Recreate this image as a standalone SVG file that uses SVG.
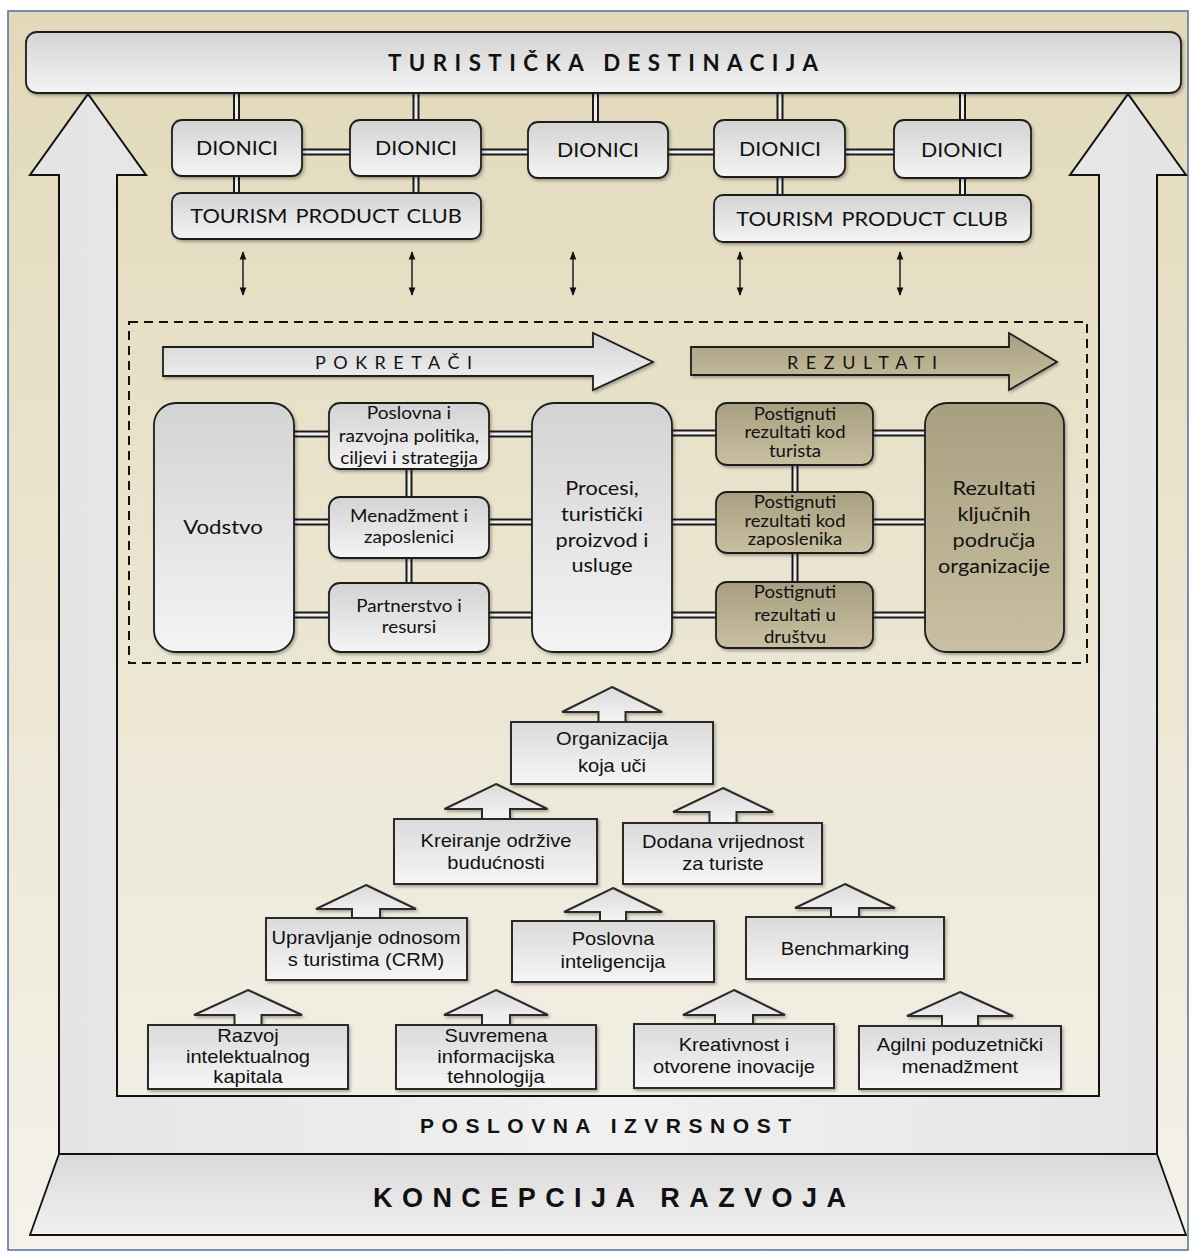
<svg xmlns="http://www.w3.org/2000/svg" width="1192" height="1254" viewBox="0 0 1192 1254">
<defs>
<linearGradient id="gBg" x1="0" y1="0" x2="0" y2="1">
<stop offset="0" stop-color="#e2d9b9"/><stop offset="0.5" stop-color="#ebe6d2"/><stop offset="1" stop-color="#f4f2ea"/>
</linearGradient>
<linearGradient id="gGrey" x1="0" y1="0" x2="0" y2="1">
<stop offset="0" stop-color="#d3d3d3"/><stop offset="1" stop-color="#f4f4f4"/>
</linearGradient>
<linearGradient id="gPy" x1="0" y1="0" x2="0" y2="1">
<stop offset="0" stop-color="#dadada"/><stop offset="1" stop-color="#f6f6f6"/>
</linearGradient>
<linearGradient id="gKhaki" x1="0" y1="0" x2="0" y2="1">
<stop offset="0" stop-color="#a89e80"/><stop offset="1" stop-color="#c9c0a1"/>
</linearGradient>
<linearGradient id="gU" x1="0" y1="0" x2="1" y2="0">
<stop offset="0" stop-color="#e4e4e4"/><stop offset="0.5" stop-color="#f1f1f1"/><stop offset="1" stop-color="#e4e4e4"/>
</linearGradient>
<linearGradient id="gBase" x1="0" y1="0" x2="0" y2="1">
<stop offset="0" stop-color="#d9d9d9"/><stop offset="1" stop-color="#f1f1f1"/>
</linearGradient>
<filter id="sh" x="-10%" y="-10%" width="125%" height="135%">
<feDropShadow dx="1.5" dy="2" stdDeviation="1.5" flood-color="#000" flood-opacity="0.3"/>
</filter>
<marker id="ah" viewBox="0 0 10 10" refX="9" refY="5" markerWidth="6" markerHeight="6" orient="auto-start-reverse">
<path d="M0,1 L10,5 L0,9 Z" fill="#111"/>
</marker>
<style>
.g{fill:url(#gGrey);stroke:#1e1e1e;stroke-width:1.8;filter:url(#sh)}
.k{fill:url(#gKhaki);stroke:#1e1e1e;stroke-width:1.8;filter:url(#sh)}
.py{fill:url(#gPy);stroke:#2a2a2a;stroke-width:2;filter:url(#sh)}
.c1{fill:none;stroke:#1a1a1a;stroke-width:7}
.c2{fill:none;stroke:#eeeeee;stroke-width:3}
.da{fill:none;stroke:#111;stroke-width:1.4;marker-start:url(#ah);marker-end:url(#ah)}
.lt{font-family:Lato,'Liberation Sans',sans-serif;fill:#111;text-anchor:middle}
.ar{font-family:'Liberation Sans',Arial,sans-serif;fill:#111;text-anchor:middle;font-size:17.5px}
.ttl{font-family:Lato,'Liberation Sans',sans-serif;fill:#111;font-weight:bold}
.ttn{font-family:'Liberation Sans',Arial,sans-serif;fill:#111;font-weight:bold}
</style>
</defs>

<rect x="8" y="11" width="1180" height="1239" fill="url(#gBg)" stroke="#4f6f9a" stroke-width="1.5"/>

<g id="frame-arrow">
<path d="M88,94 L146,175 L117,175 L117,1096 L1099,1096 L1099,175 L1070,175 L1128,94 L1186,175 L1157,175 L1157,1154 L59,1154 L59,175 L30,175 Z" fill="url(#gU)" stroke="#111" stroke-width="2"/>
<text class="ttn" x="420" y="1133" font-size="21" textLength="371" lengthAdjust="spacing">POSLOVNA IZVRSNOST</text>
</g>

<g id="koncepcija">
<path d="M59,1154 L1157,1154 L1186,1235 L30,1235 Z" fill="url(#gBase)" stroke="#111" stroke-width="1.8"/>
<text class="ttn" x="373" y="1207" font-size="27" textLength="473" lengthAdjust="spacing">KONCEPCIJA RAZVOJA</text>
</g>

<g id="connectors">
<path class="c1" d="M236.5,90 V124 M416,90 V124 M595.5,90 V126 M780,90 V124 M962.5,90 V124 M236.5,172 V197 M416,172 V197 M780,173 V199 M962.5,175 V199 M298,152 H354 M477,152 H532 M664,152 H718 M841,152 H898 M290,434 H333 M485,434 H536 M290,522 H333 M485,522 H536 M290,615 H333 M485,615 H536 M409,465 V501 M409,554 V587 M668,433 H720 M869,433 H929 M668,522 H720 M869,522 H929 M668,615 H720 M869,615 H929 M795,461 V496 M795,549 V586"/>
<path class="c2" d="M236.5,90 V124 M416,90 V124 M595.5,90 V126 M780,90 V124 M962.5,90 V124 M236.5,172 V197 M416,172 V197 M780,173 V199 M962.5,175 V199 M298,152 H354 M477,152 H532 M664,152 H718 M841,152 H898 M290,434 H333 M485,434 H536 M290,522 H333 M485,522 H536 M290,615 H333 M485,615 H536 M409,465 V501 M409,554 V587 M668,433 H720 M869,433 H929 M668,522 H720 M869,522 H929 M668,615 H720 M869,615 H929 M795,461 V496 M795,549 V586"/>
<line class="da" x1="243" y1="252" x2="243" y2="295"/>
<line class="da" x1="412" y1="252" x2="412" y2="295"/>
<line class="da" x1="573" y1="252" x2="573" y2="295"/>
<line class="da" x1="740" y1="252" x2="740" y2="295"/>
<line class="da" x1="900" y1="252" x2="900" y2="295"/>
</g>

<g id="turisticka-destinacija">
<rect class="g" x="26" y="32" width="1155" height="61" rx="11"/>
<text class="ttl" x="388" y="71" font-size="22.3" textLength="430" lengthAdjust="spacing">TURISTIČKA DESTINACIJA</text>
</g>

<g id="dionici-1"><rect class="g" x="172" y="120" width="130" height="56" rx="10"/><text class="lt" font-size="18.6" transform="translate(237 0) scale(1.15 1)" x="0" y="155">DIONICI</text></g>
<g id="dionici-2"><rect class="g" x="350" y="120" width="131" height="56" rx="10"/><text class="lt" font-size="18.6" transform="translate(416 0) scale(1.15 1)" x="0" y="155">DIONICI</text></g>
<g id="dionici-3"><rect class="g" x="528" y="122" width="140" height="56" rx="10"/><text class="lt" font-size="18.6" transform="translate(598 0) scale(1.15 1)" x="0" y="157">DIONICI</text></g>
<g id="dionici-4"><rect class="g" x="714" y="120" width="131" height="57" rx="10"/><text class="lt" font-size="18.6" transform="translate(780 0) scale(1.15 1)" x="0" y="156">DIONICI</text></g>
<g id="dionici-5"><rect class="g" x="894" y="120" width="137" height="58" rx="10"/><text class="lt" font-size="18.6" transform="translate(962 0) scale(1.15 1)" x="0" y="157">DIONICI</text></g>
<g id="tpc-1"><rect class="g" x="172" y="193" width="309" height="46" rx="9"/><text class="lt" font-size="18.6" transform="translate(326 0) scale(1.17 1)" x="0" y="223" word-spacing="2">TOURISM PRODUCT CLUB</text></g>
<g id="tpc-2"><rect class="g" x="714" y="195" width="317" height="47" rx="9"/><text class="lt" font-size="18.6" transform="translate(872 0) scale(1.17 1)" x="0" y="226" word-spacing="2">TOURISM PRODUCT CLUB</text></g>

<g id="model">
<rect x="129" y="322" width="958" height="341" fill="none" stroke="#111" stroke-width="2" stroke-dasharray="9 6"/>
</g>

<g id="pokretaci">
<polygon class="g" points="163,347 593,347 593,333 653,362 593,390 593,376 163,376"/>
<text class="lt" style="text-anchor:start" x="315" y="369" font-size="18" textLength="157" lengthAdjust="spacing">POKRETAČI</text>
</g>
<g id="rezultati-arrow">
<polygon class="k" points="691,347 1009,347 1009,333 1057,362 1009,390 1009,375 691,375"/>
<text class="lt" style="text-anchor:start" x="787" y="369" font-size="18" textLength="150" lengthAdjust="spacing">REZULTATI</text>
</g>

<g id="vodstvo"><rect class="g" x="154" y="403" width="140" height="249" rx="22"/><text class="lt" font-size="19.5" transform="translate(223 0) scale(1.14 1)" x="0" y="534">Vodstvo</text></g>
<g id="poslovna-politika"><rect class="g" x="329" y="403" width="160" height="66" rx="11"/><text class="lt" font-size="16.7" transform="translate(409 0) scale(1.14 1)"><tspan x="0" y="419">Poslovna i</tspan><tspan x="0" y="442">razvojna politika,</tspan><tspan x="0" y="464">ciljevi i strategija</tspan></text></g>
<g id="menadzment"><rect class="g" x="329" y="497" width="160" height="61" rx="11"/><text class="lt" font-size="16.5" transform="translate(409 0) scale(1.14 1)"><tspan x="0" y="522">Menadžment i</tspan><tspan x="0" y="543">zaposlenici</tspan></text></g>
<g id="partnerstvo"><rect class="g" x="329" y="583" width="160" height="69" rx="11"/><text class="lt" font-size="16.5" transform="translate(409 0) scale(1.14 1)"><tspan x="0" y="612">Partnerstvo i</tspan><tspan x="0" y="633">resursi</tspan></text></g>
<g id="procesi"><rect class="g" x="532" y="403" width="140" height="249" rx="22"/><text class="lt" font-size="19" transform="translate(602 0) scale(1.14 1)"><tspan x="0" y="495">Procesi,</tspan><tspan x="0" y="521">turistički</tspan><tspan x="0" y="547">proizvod i</tspan><tspan x="0" y="572">usluge</tspan></text></g>
<g id="rez-turista"><rect class="k" x="716" y="403" width="157" height="62" rx="11"/><text class="lt" font-size="16.3" transform="translate(795 0) scale(1.14 1)"><tspan x="0" y="420">Postignuti</tspan><tspan x="0" y="438">rezultati kod</tspan><tspan x="0" y="457">turista</tspan></text></g>
<g id="rez-zaposlenika"><rect class="k" x="716" y="492" width="157" height="61" rx="11"/><text class="lt" font-size="16.3" transform="translate(795 0) scale(1.14 1)"><tspan x="0" y="508">Postignuti</tspan><tspan x="0" y="527">rezultati kod</tspan><tspan x="0" y="545">zaposlenika</tspan></text></g>
<g id="rez-drustvo"><rect class="k" x="716" y="582" width="157" height="66" rx="11"/><text class="lt" font-size="16.3" transform="translate(795 0) scale(1.14 1)"><tspan x="0" y="598">Postignuti</tspan><tspan x="0" y="621">rezultati u</tspan><tspan x="0" y="643">društvu</tspan></text></g>
<g id="rez-kljucnih"><rect class="k" x="925" y="403" width="139" height="249" rx="22"/><text class="lt" font-size="19" transform="translate(994 0) scale(1.14 1)"><tspan x="0" y="495">Rezultati</tspan><tspan x="0" y="521">ključnih</tspan><tspan x="0" y="547">područja</tspan><tspan x="0" y="573">organizacije</tspan></text></g>

<g id="organizacija-koja-uci">
<polygon class="py" points="612,687 662,712 625.5,712 625.5,723 598.5,723 598.5,712 562,712"/>
<rect class="py" x="511" y="722" width="202" height="62"/>
<text class="ar" transform="translate(612 0) scale(1.15 1)"><tspan x="0" y="745">Organizacija</tspan><tspan x="0" y="772">koja uči</tspan></text>
</g>
<g id="kreiranje">
<polygon class="py" points="496,784 547.5,809 510,809 510,820 482,820 482,809 444.5,809"/>
<rect class="py" x="394" y="819" width="203" height="65"/>
<text class="ar" transform="translate(496 0) scale(1.15 1)"><tspan x="0" y="847">Kreiranje održive</tspan><tspan x="0" y="869">budućnosti</tspan></text>
</g>
<g id="dodana-vrijednost">
<polygon class="py" points="723,788 773,812 736.5,812 736.5,824 709.5,824 709.5,812 673,812"/>
<rect class="py" x="623" y="823" width="199" height="61"/>
<text class="ar" transform="translate(723 0) scale(1.15 1)"><tspan x="0" y="848">Dodana vrijednost</tspan><tspan x="0" y="870">za turiste</tspan></text>
</g>
<g id="crm">
<polygon class="py" points="366,885 416,909 380,909 380,919 352,919 352,909 316,909"/>
<rect class="py" x="266" y="918" width="201" height="62"/>
<text class="ar" transform="translate(366 0) scale(1.15 1)"><tspan x="0" y="944">Upravljanje odnosom</tspan><tspan x="0" y="966">s turistima (CRM)</tspan></text>
</g>
<g id="poslovna-inteligencija">
<polygon class="py" points="613,888 662,912 626,912 626,922 600,922 600,912 564,912"/>
<rect class="py" x="512" y="921" width="202" height="61"/>
<text class="ar" transform="translate(613 0) scale(1.15 1)"><tspan x="0" y="945">Poslovna</tspan><tspan x="0" y="968">inteligencija</tspan></text>
</g>
<g id="benchmarking">
<polygon class="py" points="845,884 895,908 859,908 859,918 831,918 831,908 795,908"/>
<rect class="py" x="746" y="917" width="198" height="62"/>
<text class="ar" transform="translate(845 0) scale(1.15 1)" x="0" y="955">Benchmarking</text>
</g>
<g id="intelektualni-kapital">
<polygon class="py" points="248,990 302,1015 261.5,1015 261.5,1026 234.5,1026 234.5,1015 194,1015"/>
<rect class="py" x="148" y="1025" width="200" height="64"/>
<text class="ar" transform="translate(248 0) scale(1.15 1)"><tspan x="0" y="1042">Razvoj</tspan><tspan x="0" y="1063">intelektualnog</tspan><tspan x="0" y="1083">kapitala</tspan></text>
</g>
<g id="informacijska-tehnologija">
<polygon class="py" points="496,990 548,1015 510,1015 510,1026 482,1026 482,1015 444,1015"/>
<rect class="py" x="396" y="1025" width="200" height="64"/>
<text class="ar" transform="translate(496 0) scale(1.15 1)"><tspan x="0" y="1042">Suvremena</tspan><tspan x="0" y="1063">informacijska</tspan><tspan x="0" y="1083">tehnologija</tspan></text>
</g>
<g id="kreativnost">
<polygon class="py" points="734,990 785,1015 753,1015 753,1025 715,1025 715,1015 683,1015"/>
<rect class="py" x="634" y="1024" width="200" height="64"/>
<text class="ar" transform="translate(734 0) scale(1.15 1)"><tspan x="0" y="1051">Kreativnost i</tspan><tspan x="0" y="1073">otvorene inovacije</tspan></text>
</g>
<g id="agilni-menadzment">
<polygon class="py" points="960,992 1013,1016 978,1016 978,1027 942,1027 942,1016 907,1016"/>
<rect class="py" x="859" y="1026" width="202" height="63"/>
<text class="ar" transform="translate(960 0) scale(1.15 1)"><tspan x="0" y="1051">Agilni poduzetnički</tspan><tspan x="0" y="1073">menadžment</tspan></text>
</g>
</svg>
